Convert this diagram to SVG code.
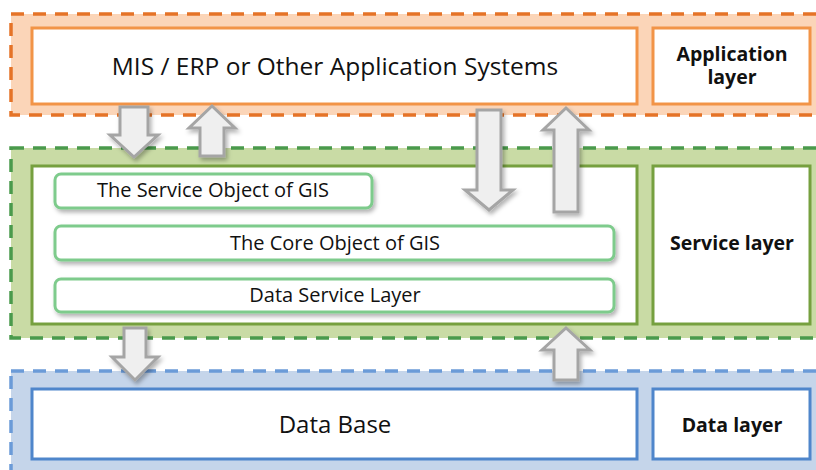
<svg xmlns="http://www.w3.org/2000/svg" width="816" height="470" viewBox="0 0 816 470">
<defs>
<filter id="sh" x="-30%" y="-30%" width="160%" height="160%">
<feDropShadow dx="2" dy="3" stdDeviation="2" flood-color="#000" flood-opacity="0.3"/>
</filter>
</defs>
<style>
.t{font-family:"Open Sans","Noto Sans",sans-serif;fill:#111;text-anchor:middle}
.b{font-family:"Open Sans","Noto Sans",sans-serif;font-weight:bold;fill:#111;text-anchor:middle;font-size:19.5px}
.s{font-size:20px}
.box{fill:#fff;stroke-width:3}
.sub{fill:#fff;stroke:#7ECB8C;stroke-width:3;filter:url(#sh)}
.arr{fill:#EFEFEF;stroke:#A5A5A5;stroke-width:3;stroke-linejoin:miter;filter:url(#sh)}
.dash{stroke-width:3.5;stroke-dasharray:13 9}
</style>
<g id="app-layer">
<rect class="dash" x="11" y="14" width="812" height="101" fill="#FBD5B8" stroke="#E57327"/>
</g>
<g id="service-layer">
<rect class="dash" x="11" y="148" width="812" height="190" fill="#C9DBA5" stroke="#4A9A4C"/>
</g>
<g id="data-layer">
<rect class="dash" x="11" y="371" width="812" height="110" fill="#C5D5EA" stroke="#6B9BD8"/>
</g>
<g id="app-systems">
<rect class="box" x="32" y="28" width="605" height="76" stroke="#F29447"/>
<text class="t" x="335" y="75" font-size="24.5">MIS / ERP or Other Application Systems</text>
</g>
<g id="app-label">
<rect class="box" x="653" y="28" width="157" height="76" stroke="#F29447"/>
<text class="b" x="732" y="61">Application<tspan x="732" dy="23">layer</tspan></text>
</g>
<g id="service-box">
<rect class="box" x="32" y="166" width="605" height="158" stroke="#76A03F"/>
</g>
<g id="service-label">
<rect class="box" x="653" y="166" width="157" height="158" stroke="#76A03F"/>
<text class="b" x="732" y="250">Service layer</text>
</g>
<g id="service-object">
<rect class="sub" x="55" y="174" width="317" height="34" rx="6"/>
<text class="t s" x="213" y="197">The Service Object of GIS</text>
</g>
<g id="core-object">
<rect class="sub" x="55" y="226" width="559" height="34" rx="6"/>
<text class="t s" x="335" y="250">The Core Object of GIS</text>
</g>
<g id="data-service">
<rect class="sub" x="55" y="279" width="559" height="33" rx="6"/>
<text class="t s" x="335" y="302">Data Service Layer</text>
</g>
<g id="database">
<rect class="box" x="32" y="389" width="605" height="70" stroke="#4F86CB"/>
<text class="t" x="335" y="433" font-size="24">Data Base</text>
</g>
<g id="data-label">
<rect class="box" x="653" y="389" width="157" height="70" stroke="#4F86CB"/>
<text class="b" x="732" y="432">Data layer</text>
</g>
<g id="connectors">
<path class="arr" d="M120,107 H148 V135 H158 L134,157 L110,135 H120 Z"/>
<path class="arr" d="M212,106 L235,128 H224 V156 H200 V128 H189 Z"/>
<path class="arr" d="M477,110 H501 V190 H513 L489,210 L465,190 H477 Z"/>
<path class="arr" d="M566,108 L589,130 H578 V212 H554 V130 H543 Z"/>
<path class="arr" d="M124,328 H146 V357 H158 L135,380 L112,357 H124 Z"/>
<path class="arr" d="M566,328 L590,350 H578 V380 H554 V350 H542 Z"/>
</g>
</svg>
